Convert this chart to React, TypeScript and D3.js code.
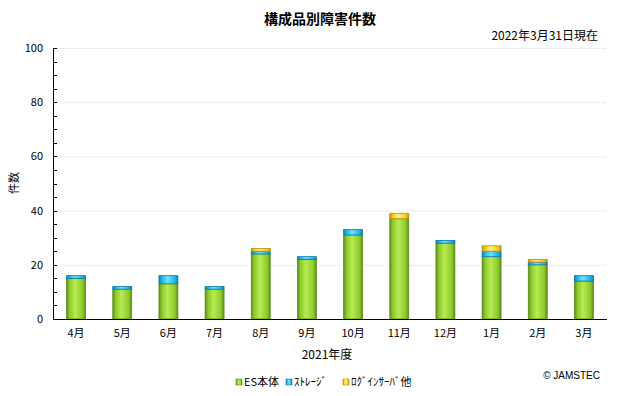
import React, { useRef, useEffect } from 'react'
import * as d3 from 'd3'

const months = ['4月', '5月', '6月', '7月', '8月', '9月', '10月', '11月', '12月', '1月', '2月', '3月']
const esMain = [15, 11, 13, 11, 24, 22, 31, 37, 28, 23, 20, 14]
const storage = [1, 1, 3, 1, 1, 1, 2, 0, 1, 2, 1, 2]
const loginOther = [0, 0, 0, 0, 1, 0, 0, 2, 0, 2, 1, 0]
const seriesNames = ['ES本体', 'ｽﾄﾚｰｼﾞ', 'ﾛｸﾞｲﾝｻｰﾊﾞ他']
const yTicks = [0, 20, 40, 60, 80, 100]

const colors = [
  { light: '#b6ec52', mid: '#8cc82c', dark: '#5c8c18' },
  { light: '#6fe0ff', mid: '#1cb4e6', dark: '#0a7cb0' },
  { light: '#fff27a', mid: '#f0cc18', dark: '#c08a08' },
]

const font = '"Noto Sans CJK JP", "Noto Sans", sans-serif'

function App() {
  const svgRef = useRef<SVGSVGElement>(null)

  useEffect(() => {
    const svg = d3.select(svgRef.current)
    svg.selectAll('*').remove()
    const W = 640, H = 396
    const m = { left: 53, right: 33, top: 48, bottom: 77 }

    const x = d3.scaleBand().domain(months).range([m.left, W - m.right]).paddingInner(0.59).paddingOuter(0.295)
    const y = d3.scaleLinear().domain([0, 100]).range([H - m.bottom, m.top])

    const defs = svg.append('defs')
    colors.forEach((c, i) => {
      const g = defs.append('linearGradient').attr('id', 'grad' + i).attr('x1', '0').attr('x2', '1').attr('y1', '0').attr('y2', '0')
      g.append('stop').attr('offset', '0').attr('stop-color', c.dark)
      g.append('stop').attr('offset', '0.15').attr('stop-color', c.mid)
      g.append('stop').attr('offset', '0.45').attr('stop-color', c.light)
      g.append('stop').attr('offset', '0.85').attr('stop-color', c.mid)
      g.append('stop').attr('offset', '1').attr('stop-color', c.dark)
    })

    // grid
    svg.append('g').selectAll('line').data(yTicks.filter(d => d > 0)).join('line')
      .attr('x1', m.left).attr('x2', W - m.right)
      .attr('y1', d => y(d) + 0.5).attr('y2', d => y(d) + 0.5)
      .attr('stroke', (d) => d === 20 ? '#e4d8e6' : '#d8dcd2').attr('stroke-dasharray', '1,1')

    // stacked bars
    const table = months.map((mo, i) => ({ month: mo, a: esMain[i], b: storage[i], c: loginOther[i] }))
    const stacked = d3.stack<any>().keys(['a', 'b', 'c'])(table)
    stacked.forEach((layer, li) => {
      svg.append('g').selectAll('rect').data(layer.filter(d => d[1] > d[0])).join('rect')
        .attr('x', d => x(d.data.month)!)
        .attr('width', x.bandwidth())
        .attr('y', d => y(d[1]))
        .attr('height', d => y(d[0]) - y(d[1]))
        .attr('fill', `url(#grad${li})`)
        .attr('stroke', colors[li].dark).attr('stroke-width', 0.8)
    })

    // axes
    const yAxis = svg.append('g').attr('transform', `translate(${m.left},0)`)
    yAxis.append('line').attr('x1', 0.5).attr('x2', 0.5).attr('y1', y(100)).attr('y2', y(0)).attr('stroke', '#000')
    yAxis.selectAll('line.minor').data(d3.range(0, 101, 5)).join('line').attr('class', 'minor')
      .attr('x1', 0).attr('x2', 4).attr('y1', d => Math.round(y(d)) + 0.5).attr('y2', d => Math.round(y(d)) + 0.5)
      .attr('stroke', '#000')
    yAxis.selectAll('text').data(yTicks).join('text')
      .attr('x', -10).attr('y', d => y(d) + 4)
      .attr('text-anchor', 'end').attr('font-size', 11).attr('font-family', font)
      .text(d => d)
    svg.append('line').attr('x1', m.left).attr('x2', W - m.right).attr('y1', y(0) + 0.5).attr('y2', y(0) + 0.5).attr('stroke', '#000')

    svg.append('g').selectAll('text').data(months).join('text')
      .attr('x', d => x(d)! + x.bandwidth() / 2).attr('y', y(0) + 18)
      .attr('text-anchor', 'middle').attr('font-size', 11).attr('font-family', font)
      .text(d => d)

    // titles
    svg.append('text').attr('x', 320).attr('y', 24).attr('text-anchor', 'middle')
      .attr('font-size', 14).attr('font-weight', 'bold').attr('font-family', font).text('構成品別障害件数')
    svg.append('text').attr('x', 598).attr('y', 40).attr('text-anchor', 'end')
      .attr('font-size', 12).attr('font-family', font).text('2022年3月31日現在')
    svg.append('text').attr('x', 327).attr('y', 359).attr('text-anchor', 'middle')
      .attr('font-size', 12).attr('font-family', font).text('2021年度')
    svg.append('text').attr('transform', 'translate(18,183) rotate(-90)').attr('text-anchor', 'middle')
      .attr('font-size', 11).attr('font-family', font).text('件数')

    // legend
    const legX = [236, 286, 343]
    seriesNames.forEach((name, i) => {
      const g = svg.append('g').attr('transform', `translate(${legX[i]},382)`)
      g.append('rect').attr('x', 0).attr('y', -3).attr('width', 6).attr('height', 6)
        .attr('fill', `url(#grad${i})`).attr('stroke', colors[i].dark).attr('stroke-width', 0.6)
      g.append('text').attr('x', 8).attr('y', 4).attr('font-size', 11).attr('font-family', font).text(name)
    })
    svg.append('text').attr('x', 600).attr('y', 379).attr('text-anchor', 'end')
      .attr('font-size', 10).attr('font-family', '"Liberation Sans", Arial, sans-serif').text('© JAMSTEC')
  }, [])

  return <svg ref={svgRef} width={640} height={396} style={{ position: 'absolute', left: 0, top: 0, background: '#fff' }} />
}

export default App
